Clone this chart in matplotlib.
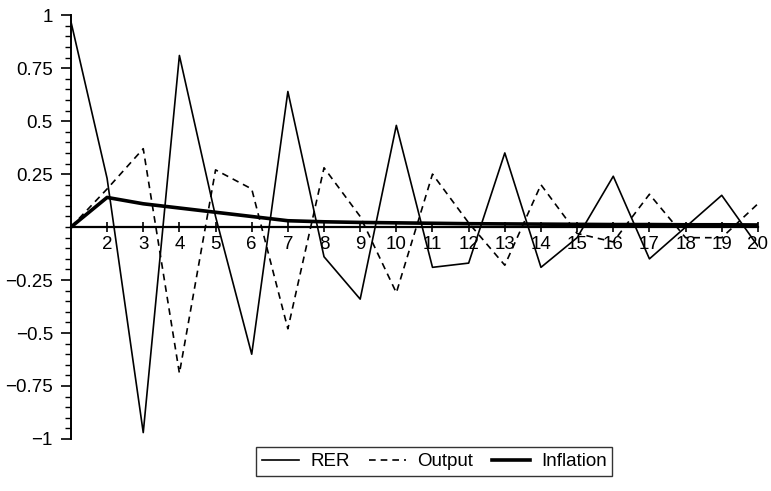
import numpy as np
import matplotlib.pyplot as plt
from matplotlib.ticker import FixedLocator, MultipleLocator

plt.rcParams['font.family'] = ['Liberation Sans', 'DejaVu Sans']

# Data
periods = list(range(1, 21))
rer = [0.97, 0.23, -0.97, 0.81, 0.05, -0.60, 0.64, -0.14, -0.34, 0.48,
       -0.19, -0.17, 0.35, -0.19, -0.05, 0.24, -0.15, 0.0, 0.15, -0.09]
output = [0.0, 0.18, 0.37, -0.69, 0.27, 0.18, -0.48, 0.28, 0.05, -0.31,
          0.25, 0.02, -0.18, 0.20, -0.03, -0.07, 0.155, -0.05, -0.05, 0.11]
inflation = [0.0, 0.14, 0.11, 0.09, 0.07, 0.05, 0.03, 0.025, 0.022, 0.02,
             0.018, 0.016, 0.015, 0.014, 0.013, 0.012, 0.012, 0.011, 0.011, 0.01]

ytick_vals = [1, 0.75, 0.5, 0.25, -0.25, -0.5, -0.75, -1]
ytick_labels = ['1', '0.75', '0.5', '0.25', '\u22120.25', '\u22120.5', '\u22120.75', '\u22121']

fig = plt.figure(figsize=(7.71, 4.91), dpi=100)
ax = fig.add_axes([0.092, 0.106, 0.891, 0.863])

ax.plot(periods, rer, color='black', linewidth=1.2, label='RER')
ax.plot(periods, output, color='black', linewidth=1.2, linestyle=(0, (4, 3)), label='Output')
ax.plot(periods, inflation, color='black', linewidth=2.6, label='Inflation')

ax.set_xlim(1, 20)
ax.set_ylim(-1, 1)

# axes crossing at x=1 and y=0
ax.spines['top'].set_visible(False)
ax.spines['right'].set_visible(False)
ax.spines['left'].set_position(('data', 1))
ax.spines['bottom'].set_position(('data', 0))
ax.spines['bottom'].set_linewidth(1.6)
ax.spines['left'].set_linewidth(1.4)

ax.set_xticks(periods[1:])
ax.set_xticklabels([str(p) for p in periods[1:]])
ax.set_yticks(ytick_vals)
ax.set_yticklabels(ytick_labels)
ax.yaxis.set_minor_locator(MultipleLocator(0.05))

ax.tick_params(axis='x', direction='inout', length=7, width=1.2, labelsize=13.5, pad=3)
ax.tick_params(axis='y', which='major', direction='out', length=7, width=1.2,
               labelsize=13.5, pad=6)
ax.tick_params(axis='y', which='minor', direction='out', length=4, width=1.0)

leg = ax.legend(loc='center', bbox_to_anchor=(0.563, 0.06), bbox_transform=fig.transFigure,
                ncol=3, frameon=True, fancybox=False, edgecolor='black', fontsize=13.5,
                handlelength=2.0, columnspacing=1.0, handletextpad=0.6, borderpad=0.3)
leg.get_frame().set_linewidth(1.0)

fig.savefig('out.png', dpi=100)
